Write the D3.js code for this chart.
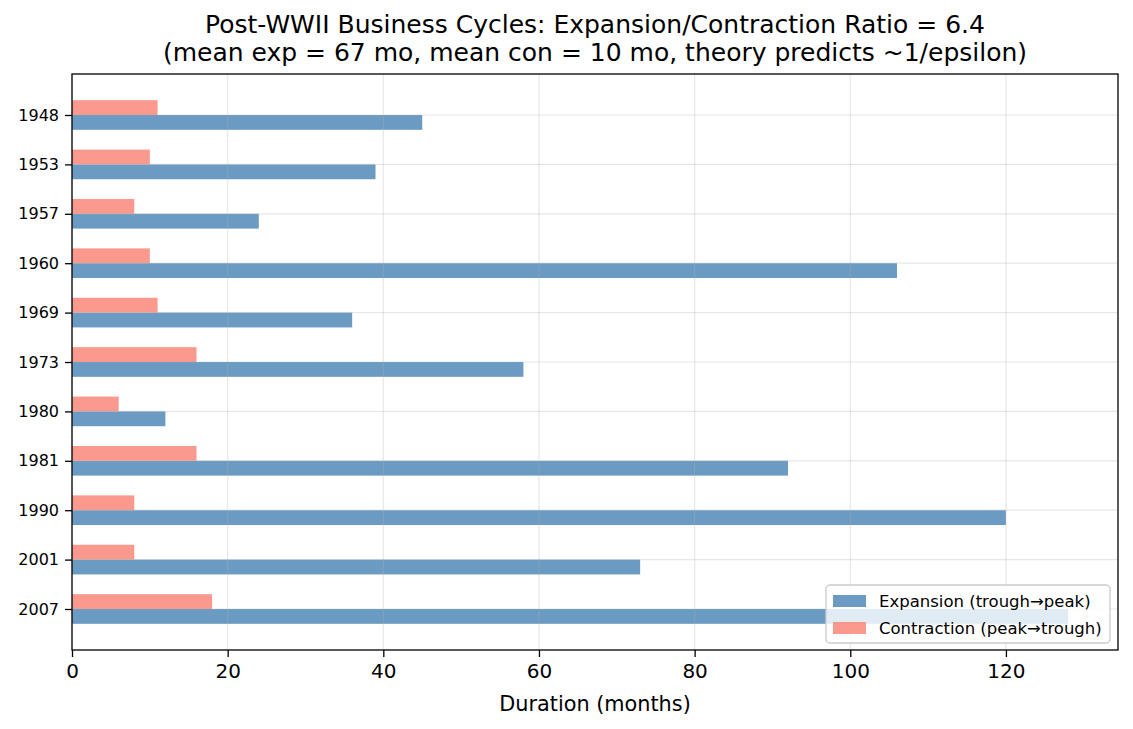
<!DOCTYPE html>
<html>
<head>
<meta charset="utf-8">
<script src="https://cdn.jsdelivr.net/npm/d3@7"></script>
<style>
  body { margin: 0; background: #fff; }
  text { font-family: "DejaVu Sans", sans-serif; fill: #000; }
</style>
</head>
<body>
<svg width="1133" height="729"></svg>
<script>
// data
var years = ['1948', '1953', '1957', '1960', '1969', '1973', '1980', '1981', '1990', '2001', '2007'];
var expansion = [45, 39, 24, 106, 36, 58, 12, 92, 120, 73, 128];
var contraction = [11, 10, 8, 10, 11, 16, 6, 16, 8, 8, 18];
var xTicks = [0, 20, 40, 60, 80, 100, 120];

var svg = d3.select('svg');
var mLeft = 72, mRight = 1118, mTop = 74, mBottom = 650;

var xScale = d3.scaleLinear()
  .domain([0, 128 * 1.05])
  .range([mLeft, mRight]);

// bars span -0.3..10.3, plus 5% margins
var yScale = d3.scaleLinear()
  .domain([-0.83, 10.83])
  .range([mTop, mBottom]);

var barH = yScale(0.3) - yScale(0);

var g = svg.append('g');

// bars
g.selectAll('rect.exp')
  .data(expansion)
  .enter().append('rect')
  .attr('class', 'exp')
  .attr('x', xScale(0))
  .attr('y', (d, i) => yScale(i))
  .attr('width', d => xScale(d) - xScale(0))
  .attr('height', barH)
  .attr('fill', '#4682b4').attr('fill-opacity', 0.8);

g.selectAll('rect.con')
  .data(contraction)
  .enter().append('rect')
  .attr('class', 'con')
  .attr('x', xScale(0))
  .attr('y', (d, i) => yScale(i - 0.3))
  .attr('width', d => xScale(d) - xScale(0))
  .attr('height', barH)
  .attr('fill', '#fa8072').attr('fill-opacity', 0.8);

// grid (above bars, like matplotlib)
var grid = svg.append('g');
grid.selectAll('line.vx')
  .data(xTicks)
  .enter().append('line')
  .attr('x1', d => xScale(d)).attr('x2', d => xScale(d))
  .attr('y1', mTop).attr('y2', mBottom)
  .attr('stroke', '#b0b0b0').attr('stroke-opacity', 0.3).attr('stroke-width', 1.2);
grid.selectAll('line.hy')
  .data(years)
  .enter().append('line')
  .attr('x1', mLeft).attr('x2', mRight)
  .attr('y1', (d, i) => yScale(i)).attr('y2', (d, i) => yScale(i))
  .attr('stroke', '#b0b0b0').attr('stroke-opacity', 0.3).attr('stroke-width', 1.2);

// axes
var xAxis = d3.axisBottom(xScale).tickValues(xTicks).tickSize(7).tickPadding(7);
var xg = svg.append('g').attr('transform', 'translate(0,' + mBottom + ')').call(xAxis);
xg.select('.domain').remove();
xg.selectAll('text').style('font-size', '20px').style('font-family', '"DejaVu Sans", sans-serif');
xg.selectAll('line').attr('stroke', '#000').attr('stroke-width', 1.3);

var yAxis = d3.axisLeft(yScale)
  .tickValues(d3.range(years.length))
  .tickFormat(i => years[i])
  .tickSize(7).tickPadding(6);
var yg = svg.append('g').attr('transform', 'translate(' + mLeft + ',0)').call(yAxis);
yg.select('.domain').remove();
yg.selectAll('text').style('font-size', '16px').style('font-family', '"DejaVu Sans", sans-serif');
yg.selectAll('line').attr('stroke', '#000').attr('stroke-width', 1.3);

// frame
svg.append('rect')
  .attr('x', mLeft).attr('y', mTop)
  .attr('width', mRight - mLeft).attr('height', mBottom - mTop)
  .attr('fill', 'none').attr('stroke', '#000').attr('stroke-width', 1.3);

// labels
svg.append('text')
  .attr('x', (mLeft + mRight) / 2).attr('y', 711)
  .attr('text-anchor', 'middle').style('font-size', '20.8px')
  .text('Duration (months)');

svg.append('text')
  .attr('x', (mLeft + mRight) / 2).attr('y', 33)
  .attr('text-anchor', 'middle').style('font-size', '25px')
  .text('Post-WWII Business Cycles: Expansion/Contraction Ratio = 6.4');
svg.append('text')
  .attr('x', (mLeft + mRight) / 2).attr('y', 61)
  .attr('text-anchor', 'middle').style('font-size', '25px')
  .text('(mean exp = 67 mo, mean con = 10 mo, theory predicts ~1/epsilon)');

// legend
var legendItems = [
  { label: 'Expansion (trough\u2192peak)', color: '#4682b4' },
  { label: 'Contraction (peak\u2192trough)', color: '#fa8072' }
];
var lg = svg.append('g').attr('transform', 'translate(826,585)');
lg.append('rect')
  .attr('width', 284).attr('height', 58).attr('rx', 4)
  .attr('fill', '#fff').attr('fill-opacity', 0.8)
  .attr('stroke', '#cccccc').attr('stroke-width', 1.3);
lg.selectAll('g.item')
  .data(legendItems)
  .enter().append('g')
  .attr('transform', (d, i) => 'translate(7,' + (10 + i * 27) + ')')
  .each(function(d) {
    var it = d3.select(this);
    it.append('rect').attr('width', 33).attr('height', 12)
      .attr('fill', d.color).attr('fill-opacity', 0.8);
    it.append('text').attr('x', 46).attr('y', 12)
      .style('font-size', '16.5px').text(d.label);
  });
</script>
</body>
</html>
